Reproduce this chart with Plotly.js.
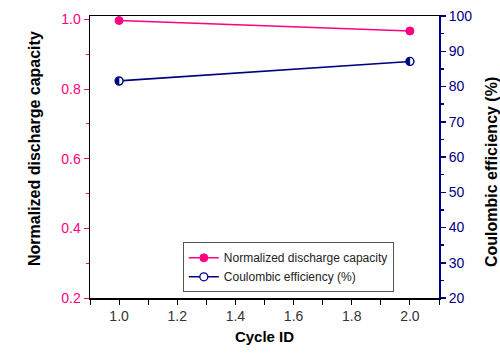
<!DOCTYPE html>
<html>
<head>
<meta charset="utf-8">
<script src="https://cdn.plot.ly/plotly-3.0.1.min.js"></script>
<style>
  html, body { margin: 0; padding: 0; background: #fff; }
  #chart { width: 500px; height: 354px; }
</style>
</head>
<body>
<div id="chart"></div>
<script>
// Cycle numbers on the x axis
const cycleId = [1.0, 2.0];
// Discharge capacity normalised to the first cycle
const normCapacity = [0.997, 0.967];
// Coulombic efficiency per cycle, in percent
const coulombicEff = [81.6, 87.1];

const PINK = '#FF0080';
const NAVY = '#000080';
const FONT = 'Liberation Sans, Arial, sans-serif';

const traces = [
  {
    x: cycleId, y: normCapacity, name: 'Normalized discharge capacity',
    type: 'scatter', mode: 'lines+markers',
    line: { color: PINK, width: 1.6 },
    marker: { symbol: 'circle', size: 8, color: PINK, line: { color: PINK, width: 1 } },
    yaxis: 'y'
  },
  {
    x: cycleId, y: coulombicEff, name: 'Coulombic efficiency (%)',
    type: 'scatter', mode: 'lines+markers',
    line: { color: NAVY, width: 1.6 },
    marker: { symbol: 'circle', size: 8, color: '#fff', line: { color: NAVY, width: 1.3 } },
    yaxis: 'y2'
  },
  {
    // left-half filled glyph laid over the open circles
    x: cycleId, y: coulombicEff, text: coulombicEff.map(() => '\u25D0'),
    type: 'scatter', mode: 'text', textposition: 'middle center',
    textfont: { family: 'DejaVu Sans', size: 11, color: NAVY },
    showlegend: false, hoverinfo: 'skip',
    yaxis: 'y2'
  }
];

const layout = {
  width: 500, height: 354,
  margin: { l: 90, r: 61, t: 16, b: 56 },
  paper_bgcolor: '#fff', plot_bgcolor: '#fff',
  font: { family: FONT, size: 12, color: '#000' },
  showlegend: true,
  legend: {
    x: 0.266, y: 0.1975, xanchor: 'left', yanchor: 'top',
    bgcolor: '#fff', bordercolor: '#555', borderwidth: 1,
    font: { family: FONT, size: 12, color: '#222' },
    tracegroupgap: 0, itemwidth: 30
  },
  xaxis: {
    range: [0.9, 2.1], dtick: 0.2, tick0: 1.0,
    showgrid: false, zeroline: false,
    showline: true, linecolor: '#000', linewidth: 1.5, mirror: true,
    ticks: 'outside', ticklen: 5, tickwidth: 1, tickcolor: '#000',
    tickfont: { family: FONT, size: 14, color: '#333' },
    tickformat: '.1f',
    minor: { dtick: 0.1, tick0: 0.9, ticklen: 5, tickcolor: '#000', ticks: 'outside' },
    title: { text: '<b>Cycle ID</b>', font: { family: FONT, size: 15, color: '#000' }, standoff: 8 }
  },
  yaxis: {
    range: [0.2, 1.01], dtick: 0.2, tick0: 0.2,
    showgrid: false, zeroline: false,
    showline: true, linecolor: '#000', linewidth: 1.5,
    ticks: 'outside', ticklen: 5, tickwidth: 1, tickcolor: PINK,
    tickfont: { family: FONT, size: 14, color: PINK },
    tickformat: '.1f',
    minor: { dtick: 0.1, ticklen: 3, tickcolor: PINK, ticks: 'outside' }
  },
  yaxis2: {
    overlaying: 'y', side: 'right',
    range: [20, 100], dtick: 10,
    showgrid: false, zeroline: false,
    showline: true, linecolor: NAVY, linewidth: 2,
    ticks: 'outside', ticklen: 5, tickwidth: 1.5, tickcolor: NAVY,
    tickfont: { family: FONT, size: 14, color: NAVY },
    minor: { dtick: 5, ticklen: 3, tickcolor: NAVY, ticks: 'outside' }
  },
  annotations: [
    {
      text: '<b>Normalized discharge capacity</b>', textangle: -90,
      xref: 'paper', yref: 'paper', x: -0.1576, y: 0.532,
      xanchor: 'center', yanchor: 'middle', showarrow: false,
      font: { family: FONT, size: 16, color: '#000' }
    },
    {
      text: '<b>Coulombic efficiency (%)</b>', textangle: -90,
      xref: 'paper', yref: 'paper', x: 1.152, y: 0.447,
      xanchor: 'center', yanchor: 'middle', showarrow: false,
      font: { family: FONT, size: 16, color: '#000' }
    }
  ]
};

Plotly.newPlot('chart', traces, layout, { displayModeBar: false, staticPlot: true });
</script>
</body>
</html>
